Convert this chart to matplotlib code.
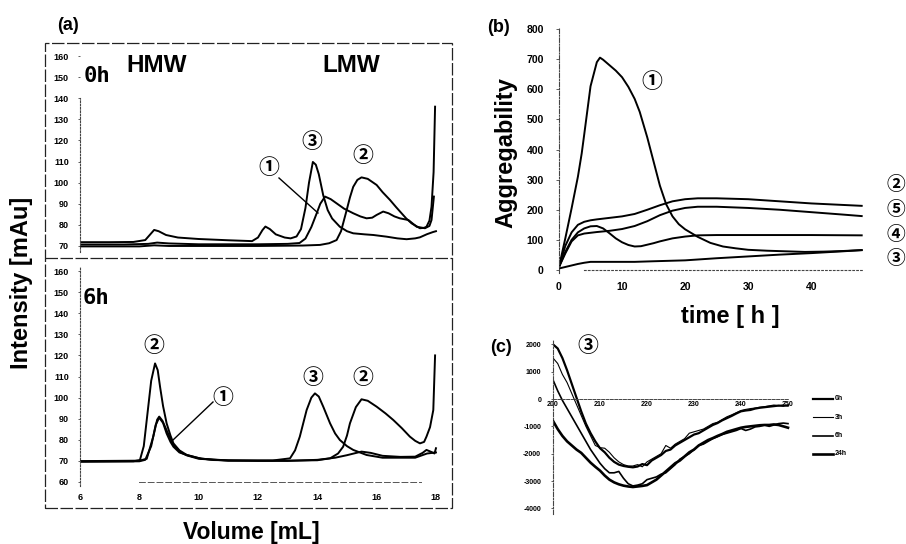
import matplotlib
matplotlib.use('Agg')
import matplotlib.pyplot as plt
from matplotlib.lines import Line2D
from matplotlib.patches import Rectangle

# ---------------- data ----------------
# (a) SEC chromatograms, 0 h
vol_0h_1 = [6.0, 7.5, 8.3, 8.6, 9.0, 10.0, 12.0, 13.0, 13.4, 13.6, 13.8, 13.98, 14.1, 14.26, 14.45, 14.65,
            14.9, 15.21, 15.45, 15.66, 15.85, 16.0, 16.22, 16.4, 16.6, 16.78, 17.07, 17.35, 17.63, 17.78,
            17.85, 17.93]
int_0h_1 = [70.7, 70.7, 71.0, 71.6, 71.2, 70.8, 70.8, 71.0, 71.4, 73.5, 79.0, 85.5, 90.0, 93.4, 92.2, 90.2,
            87.7, 85.5, 84.0, 83.1, 83.4, 84.7, 86.3, 85.5, 84.0, 83.1, 82.3, 79.1, 78.4, 79.5,
            82.3, 93.4]
vol_0h_2 = [6.0, 8.0, 8.5, 9.0, 12.0, 13.5, 14.09, 14.4, 14.65, 14.8, 14.99, 15.1, 15.21, 15.35, 15.49, 15.7,
            16.0, 16.2, 16.45, 16.65, 16.84, 17.0, 17.18, 17.46, 17.6, 17.68, 17.78, 17.85, 17.92, 17.97]
int_0h_2 = [69.8, 69.8, 70.3, 70.0, 70.0, 70.2, 70.5, 71.3, 72.8, 77.0, 87.0, 93.0, 98.0, 101.3, 102.5, 101.8,
            98.9, 95.5, 91.8, 88.5, 85.5, 83.0, 80.7, 78.4, 78.6, 79.1, 82.0, 88.6, 105.0, 136.0]
vol_0h_3 = [6.0, 7.0, 7.8, 8.2, 8.4, 8.5, 8.65, 8.9, 9.3, 10.0, 11.0, 11.8, 12.0, 12.15, 12.25, 12.4, 12.6,
            12.9, 13.1, 13.3, 13.45, 13.6, 13.72, 13.85, 13.95, 14.05, 14.2, 14.35, 14.5, 14.76, 15.0,
            15.21, 15.6, 15.89, 16.34, 16.7, 17.01, 17.3, 17.46, 17.7, 17.9, 18.0]
int_0h_3 = [71.8, 71.8, 71.9, 72.8, 76.0, 77.6, 77.0, 75.2, 74.0, 73.3, 72.7, 72.3, 74.0, 77.5, 79.2, 78.0, 75.5,
            74.0, 73.6, 74.5, 78.0, 88.0, 100.0, 109.8, 108.5, 104.0, 94.0, 87.0, 83.0, 79.1, 77.0,
            76.0, 75.5, 75.2, 74.4, 73.6, 73.2, 73.6, 74.1, 75.6, 76.6, 77.0]

# (a) SEC chromatograms, 6 h
vol_6h_1 = [6.0, 8.0, 8.2, 8.4, 8.55, 8.67, 8.8, 8.92, 9.05, 9.15, 9.35, 9.6, 10.0, 10.5, 12.0, 13.0, 14.0,
            14.6, 15.0, 15.49, 15.8, 16.2, 16.8, 17.3, 17.55, 17.68, 17.85, 17.95, 18.0]
int_6h_1 = [69.6, 69.8, 70.5, 77.0, 87.0, 90.5, 88.0, 83.0, 79.0, 76.7, 74.0, 72.8, 71.3, 70.4, 70.0, 70.0, 70.5,
            71.5, 72.7, 74.4, 73.8, 72.4, 71.9, 72.0, 73.8, 75.2, 74.2, 73.5, 76.0]
vol_6h_2 = [6.0, 7.8, 8.02, 8.15, 8.25, 8.4, 8.53, 8.62, 8.7, 8.8, 8.92, 9.05, 9.15, 9.35, 9.6, 10.1, 11.0,
            13.0, 14.0, 14.43, 14.7, 14.87, 15.0, 15.1, 15.3, 15.49, 15.7, 16.0, 16.3, 16.56, 16.85,
            17.12, 17.3, 17.46, 17.6, 17.68, 17.8, 17.91, 17.97]
int_6h_2 = [69.7, 69.8, 70.4, 77.0, 89.4, 108.0, 116.2, 113.0, 105.0, 96.0, 87.8, 82.0, 78.3, 75.0, 72.8, 71.0, 70.2,
            70.1, 70.3, 71.2, 73.5, 76.7, 82.0, 87.8, 95.5, 99.2, 98.5, 95.7, 92.5, 89.4, 85.5,
            81.5, 79.5, 78.3, 79.0, 81.5, 86.0, 94.1, 120.0]
vol_6h_3 = [6.0, 8.0, 8.25, 8.47, 8.6, 8.67, 8.78, 8.92, 9.15, 9.4, 9.6, 10.0, 11.0, 12.5, 13.08, 13.25, 13.41,
            13.64, 13.8, 13.92, 14.05, 14.2, 14.43, 14.6, 14.76, 15.0, 15.21, 15.66, 16.2, 17.3, 17.7, 18.0]
int_6h_3 = [69.9, 70.1, 71.0, 81.5, 89.5, 91.0, 89.0, 84.5, 77.5, 74.0, 72.6, 71.0, 70.1, 70.2, 71.2, 75.0, 81.5,
            94.1, 100.0, 102.0, 100.5, 95.7, 87.8, 83.0, 79.9, 77.0, 75.2, 72.8, 71.5, 71.5, 73.5, 74.0]

# (b) aggregability vs time
t_1 = [0, 1, 2, 3, 3.6, 4, 5, 6, 6.5, 7, 8, 9, 10, 11, 12, 12.8, 14, 15, 16, 17, 18, 19, 20, 22, 24, 26, 28,
       30, 33, 36, 39, 42, 45, 48]
agg_1 = [10, 105, 205, 310, 387, 450, 610, 690, 705, 698, 680, 662, 640, 608, 568, 525, 440, 360, 280, 218,
         178, 152, 135, 110, 90, 78, 72, 67, 64, 62, 60, 61, 63, 66]
t_2 = [0, 1, 2, 3, 4, 5, 6, 8, 10, 12, 14, 16, 18, 20, 22, 25, 30, 35, 40, 45, 48]
agg_2 = [10, 80, 125, 150, 160, 165, 168, 173, 178, 186, 200, 215, 228, 235, 238, 238, 235, 228, 221, 216, 213]
t_5 = [0, 1, 2, 3, 4, 6, 8, 10, 12, 14, 16, 18, 20, 22, 25, 30, 35, 40, 45, 48]
agg_5 = [10, 55, 95, 115, 121, 126, 130, 136, 146, 162, 182, 197, 206, 210, 210, 206, 200, 192, 184, 179]
t_4 = [0, 1, 2, 3, 4, 5, 6, 7, 8, 9, 10, 11, 12, 13, 14, 15, 16, 18, 20, 22, 25, 30, 40, 48]
agg_4 = [10, 60, 100, 125, 138, 145, 146, 138, 122, 105, 92, 83, 78, 79, 84, 89, 95, 105, 111, 115, 116, 116,
         116, 115]
t_3 = [0, 1, 2, 3, 4, 5, 8, 10, 12, 15, 20, 25, 30, 35, 40, 45, 48]
agg_3 = [5, 10, 15, 20, 24, 27, 27, 27, 27, 29, 32, 39, 45, 51, 56, 62, 66]

# (c) CD spectra of sample 3
wl = list(range(200, 251))
cd_0h = [2000, 1850, 1500, 1050, 550, 50, -450, -900, -1250, -1550, -1800, -1950, -2150, -2300, -2400, -2450,
         -2480, -2500, -2470, -2380, -2420, -2250, -2150, -2050, -1900, -1850, -1700, -1600, -1500, -1400,
         -1300, -1250, -1150, -1050, -950, -880, -780, -700, -620, -530, -450, -420, -400, -350, -320, -300,
         -280, -260, -240, -250, -230]
cd_3h = [1500, 1300, 900, 600, 200, -200, -600, -1000, -1350, -1700, -1780, -1800, -1950, -2150, -2300, -2400,
         -2450, -2450, -2400, -2480, -2300, -2200, -2100, -2000, -1700, -1800, -1650, -1550, -1450, -1250,
         -1200, -1150, -1100, -1000, -900, -850, -750, -650, -580, -500, -420, -380, -350, -330, -300, -280,
         -250, -220, -250, -220, -260]
cd_6h = [700, 300, -50, -350, -650, -950, -1250, -1550, -1850, -2100, -2350, -2550, -2700, -2700, -2650, -2900,
         -3100, -3180, -3150, -3100, -2950, -2900, -2850, -2750, -2700, -2550, -2400, -2200, -2100, -2000,
         -1850, -1700, -1650, -1550, -1450, -1380, -1300, -1250, -1200, -1150, -1080, -1150, -1100, -1020,
         -1000, -950, -1000, -950, -900, -880, -900]
cd_24h = [-800, -1100, -1350, -1550, -1700, -1850, -1970, -2150, -2330, -2480, -2620, -2800, -2950, -3050,
          -3120, -3170, -3200, -3220, -3200, -3180, -3150, -3050, -2950, -2800, -2650, -2500, -2350, -2250,
          -2100, -1950, -1850, -1700, -1600, -1500, -1430, -1350, -1280, -1200, -1150, -1100, -1050, -1020,
          -1000, -980, -960, -950, -950, -930, -950, -1000, -1050]
cd_labels = ['0h', '3h', '6h', '24h']

# ---------------- figure ----------------
W, H = 906, 544
plt.rcParams['font.family'] = ['Liberation Sans', 'DejaVu Sans']
plt.rcParams['axes.unicode_minus'] = False
fig = plt.figure(figsize=(W / 100, H / 100), dpi=100)

def rect(x0, y0, x1, y1):
    return [x0 / W, 1 - y1 / H, (x1 - x0) / W, (y1 - y0) / H]

def fx(px):
    return px / W

def fy(py):
    return 1 - py / H

CIRC = ['Noto Sans CJK JP', 'DejaVu Sans']
LW = 1.4

def style_axes(ax):
    for s in ['top', 'right', 'bottom']:
        ax.spines[s].set_visible(False)
    ax.spines['left'].set_linestyle((0, (1.5, 1.5)))
    ax.spines['left'].set_linewidth(0.8)
    ax.spines['left'].set_color('#444444')
    ax.patch.set_alpha(0)

# ---- (a) top 0h ----
axA1 = fig.add_axes(rect(80, 51.8, 441.9, 252.3))
style_axes(axA1)
axA1.set_xlim(6, 18.2)
axA1.set_ylim(67, 162)
axA1.spines['left'].set_bounds(67, 140)
axA1.set_yticks(range(70, 161, 10))
axA1.set_xticks([])
axA1.tick_params(axis='y', length=1.5, width=0.6, pad=6.5, labelsize=6.5, color='#444444')
for lab in axA1.get_yticklabels():
    lab.set_fontweight('bold')
for v, i in [(vol_0h_1, int_0h_1), (vol_0h_2, int_0h_2), (vol_0h_3, int_0h_3)]:
    axA1.plot(v, i, color='black', lw=LW, solid_joinstyle='round')

# ---- (a) bottom 6h ----
axA2 = fig.add_axes(rect(80, 266.8, 441.9, 486.2))
style_axes(axA2)
axA2.set_xlim(6, 18.2)
axA2.set_ylim(58, 162)
axA2.spines['left'].set_bounds(58, 162)
axA2.spines['bottom'].set_visible(True)
axA2.spines['bottom'].set_position(('data', 60))
axA2.spines['bottom'].set_bounds(8, 17.5)
axA2.spines['bottom'].set_linestyle((0, (6, 3)))
axA2.spines['bottom'].set_linewidth(0.7)
axA2.spines['bottom'].set_color('#555555')
axA2.set_yticks(range(60, 161, 10))
axA2.set_xticks(range(6, 19, 2))
axA2.tick_params(axis='y', length=1.5, width=0.6, pad=6.5, labelsize=6.5, color='#444444')
axA2.tick_params(axis='x', length=0, pad=8, labelsize=6.5)
for lab in axA2.get_yticklabels() + axA2.get_xticklabels():
    lab.set_fontweight('bold')
for v, i in [(vol_6h_1, int_6h_1), (vol_6h_2, int_6h_2), (vol_6h_3, int_6h_3)]:
    axA2.plot(v, i, color='black', lw=LW, solid_joinstyle='round')

# frame of panel (a)
fig.add_artist(Rectangle((fx(45), fy(508)), (452 - 45) / W, (508 - 43) / H, fill=False, lw=0.9,
                         ls=(0, (10, 2)), ec='#222222', transform=fig.transFigure))
fig.add_artist(Line2D([fx(45), fx(452)], [fy(258), fy(258)], lw=0.9, ls=(0, (10, 2)), color='#222222',
                      transform=fig.transFigure))

fig.text(fx(68), fy(25), '(a)', ha='center', va='center', fontsize=13, fontweight='bold')
fig.text(fx(22), fy(283), 'Intensity [mAu]', rotation=90, ha='center', va='center', fontsize=17,
         fontweight='bold')
fig.text(fx(251), fy(532), 'Volume [mL]', ha='center', va='center', fontsize=16.5, fontweight='bold')
fig.text(fx(97), fy(76), '0h', ha='center', va='center', fontsize=16, fontweight='bold',
         family=['DejaVu Sans Mono', 'DejaVu Sans'])
fig.text(fx(157), fy(66), 'HMW', ha='center', va='center', fontsize=17.5, fontweight='bold')
fig.text(fx(351), fy(66), 'LMW', ha='center', va='center', fontsize=17.5, fontweight='bold')
fig.text(fx(96), fy(298), '6h', ha='center', va='center', fontsize=16, fontweight='bold',
         family=['DejaVu Sans Mono', 'DejaVu Sans'])

def circ(x, y, s, size=15):
    fig.text(fx(x), fy(y), s, ha='center', va='center', fontsize=size, fontweight='bold', family=CIRC)

circ(312, 141, '③')
circ(363, 155, '②')
circ(269, 168, '①')
fig.add_artist(Line2D([fx(279), fx(318)], [fy(178), fy(213)], lw=1.0, color='black',
                      transform=fig.transFigure))
circ(154, 346, '②')
circ(223, 397, '①')
circ(313, 377, '③')
circ(363, 377, '②')
fig.add_artist(Line2D([fx(213), fx(173)], [fy(402), fy(440)], lw=1.0, color='black',
                      transform=fig.transFigure))

# ---- (b) ----
axB = fig.add_axes(rect(559, 26.5, 868, 273))
style_axes(axB)
axB.spines['left'].set_linestyle((0, (4, 1.5, 1, 1.5)))
axB.spines['bottom'].set_visible(True)
axB.spines['bottom'].set_position(('data', 0))
axB.spines['bottom'].set_bounds(4, 48)
axB.spines['bottom'].set_linestyle((0, (1.5, 2)))
axB.spines['bottom'].set_linewidth(0.8)
axB.spines['bottom'].set_color('#444444')
axB.set_xlim(0, 49)
axB.set_ylim(-10, 808.4)
axB.set_yticks(range(0, 801, 100))
axB.set_xticks(range(0, 41, 10))
axB.tick_params(axis='y', length=2, width=0.6, pad=9, labelsize=7.5, color='#444444')
axB.tick_params(axis='x', length=0, pad=9, labelsize=7.5)
for lab in axB.get_yticklabels() + axB.get_xticklabels():
    lab.set_fontweight('bold')
for t, a in [(t_1, agg_1), (t_2, agg_2), (t_5, agg_5), (t_4, agg_4), (t_3, agg_3)]:
    axB.plot(t, a, color='black', lw=LW, solid_joinstyle='round')

fig.text(fx(498), fy(27), '(b)', ha='center', va='center', fontsize=13, fontweight='bold')
fig.text(fx(506), fy(153), 'Aggregability', rotation=90, ha='center', va='center', fontsize=17,
         fontweight='bold')
fig.text(fx(730), fy(317), 'time [ h ]', ha='center', va='center', fontsize=17, fontweight='bold')
circ(652, 82, '①')
circ(896, 185, '②', 13.5)
circ(896, 209, '⑤', 13.5)
circ(896, 234, '④', 13.5)
circ(896, 259, '③', 13.5)

# ---- (c) ----
axC = fig.add_axes(rect(553, 338.9, 792.7, 513.8))
style_axes(axC)
axC.spines['left'].set_linestyle((0, (4, 1.5, 1, 1.5)))
axC.spines['bottom'].set_visible(True)
axC.spines['bottom'].set_position(('data', 0))
axC.spines['bottom'].set_bounds(200, 250)
axC.spines['bottom'].set_linestyle((0, (3, 1.5)))
axC.spines['bottom'].set_linewidth(0.7)
axC.spines['bottom'].set_color('#444444')
axC.set_xlim(200, 251)
axC.set_ylim(-4200, 2200)
axC.set_yticks(range(-4000, 2001, 1000))
axC.set_xticks(range(200, 251, 10))
axC.tick_params(axis='y', length=1.5, width=0.6, pad=7, labelsize=5, color='#444444')
axC.tick_params(axis='x', length=0, pad=1.5, labelsize=5)
for lab in axC.get_yticklabels() + axC.get_xticklabels():
    lab.set_fontweight('bold')
cd_lw = [1.6, 0.8, 1.2, 1.9]
for series, lw in zip([cd_0h, cd_3h, cd_6h, cd_24h], cd_lw):
    axC.plot(wl, series, color='black', lw=lw, solid_joinstyle='round')

# legend of (c)
for k, (lab, lw) in enumerate(zip(cd_labels, cd_lw)):
    yy = 399 + k * 18.3
    fig.add_artist(Line2D([fx(813), fx(833)], [fy(yy), fy(yy)], lw=lw, color='black',
                          transform=fig.transFigure))
    fig.text(fx(835), fy(yy), lab, ha='left', va='center', fontsize=5, fontweight='bold')

fig.text(fx(501), fy(347), '(c)', ha='center', va='center', fontsize=13, fontweight='bold')
circ(588, 345, '③')

fig.savefig('out.png', dpi=100)
